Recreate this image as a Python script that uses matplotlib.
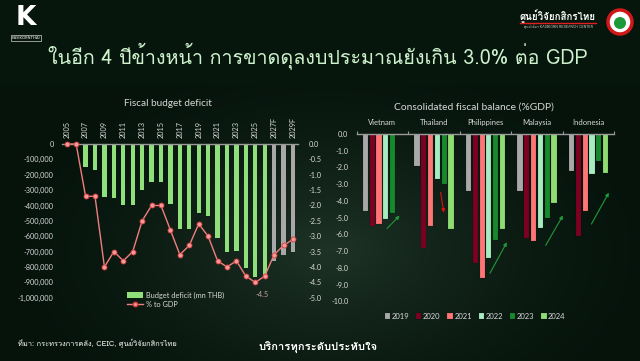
import numpy as np
import matplotlib
matplotlib.use('Agg')
import matplotlib.pyplot as plt
from matplotlib import font_manager
from matplotlib.ft2font import FT2Font
from matplotlib.patches import Circle, Patch
from matplotlib.lines import Line2D

# ---- data: left chart (Thailand budget deficit) ----
years = list(range(2005, 2030))
year_labels = [str(y) if y < 2027 else f'{y}F' for y in years]
deficit = [np.nan, np.nan, -147000, -166000, -347000, -350000, -400000, -400000,
           -300000, -250000, -250000, -390000, -553000, -550000, -450000, -469000,
           -609000, -700000, -695000, -805000, -865700, -860000, -761000, -722000,
           -705000]
pct_gdp = [0.0, 0.0, -1.7, -1.7, -4.0, -3.5, -3.8, -3.5, -2.5, -2.0, -2.0, -2.8,
           -3.6, -3.3, -2.6, -3.0, -3.8, -4.0, -3.8, -4.3, -4.5, -4.3, -3.6, -3.3,
           -3.1]

# ---- data: right chart (consolidated fiscal balance %GDP) ----
countries = ['Vietnam', 'Thailand', 'Philippines', 'Malaysia', 'Indonesia']
bal_years = ['2019', '2020', '2021', '2022', '2023', '2024']
bal_2019 = [-4.6, -1.9, -3.4, -3.4, -2.2]
bal_2020 = [-5.5, -6.8, -7.7, -6.2, -6.1]
bal_2021 = [-5.4, -5.5, -8.6, -6.4, -4.6]
bal_2022 = [-5.1, -2.7, -7.4, -5.6, -2.4]
bal_2023 = [-4.7, -3.0, -6.3, -5.0, -1.6]
bal_2024 = [np.nan, -5.7, -5.7, -4.1, -2.3]
bal_colors = ['#a9a9a9', '#7d0022', '#ff7474', '#a6ecc0', '#178a2e', '#8fdc72']

# trend arrows (start, end) in data coords of right chart
arrows = [((0.05, -5.76), (0.37, -4.76), '#1f9a3a'),
          ((1.12, -3.32), (1.20, -4.86), '#e01010'),
          ((2.06, -8.46), (2.44, -6.32), '#1f9a3a'),
          ((3.14, -6.80), (3.53, -4.72), '#1f9a3a'),
          ((4.03, -5.52), (4.42, -3.36), '#1f9a3a')]


def thai_font():
    for f in font_manager.fontManager.ttflist:
        try:
            if 0x0E01 in FT2Font(f.fname).get_charmap():
                return f.name
        except Exception:
            pass
    return 'DejaVu Sans'


TH = [thai_font(), 'DejaVu Sans']
plt.rcParams['font.family'] = ['Lato', 'DejaVu Sans']
TXT = '#d9d9d9'

fig = plt.figure(figsize=(6.4, 3.61), dpi=100)

# background
bg = fig.add_axes([0, 0, 1, 1], zorder=-10)
yy, xx = np.mgrid[0:361, 0:640]
r = np.sqrt(((xx - 330) / 330.0) ** 2 + ((yy - 250) / 200.0) ** 2)
glow = np.clip(1 - r, 0, 1) ** 1.5
base = np.array([0.02, 0.075, 0.045])
light = np.array([0.12, 0.20, 0.15])
img = base + glow[..., None] * (light - base)
img[:85] = np.array([0.03, 0.09, 0.05])
bg.imshow(img, aspect='auto', extent=[0, 640, 361, 0])
bg.set_xlim(0, 640)
bg.set_ylim(361, 0)
bg.axis('off')

# header
bg.text(26, 18, 'K', color='white', fontsize=19, fontweight='bold',
        ha='center', va='center', family=['DejaVu Sans'])
bg.text(26, 38, 'KASIKORNTHAI', color='white', fontsize=2.8, ha='center', va='center',
        bbox=dict(boxstyle='square,pad=0.2', facecolor='none', edgecolor='white', lw=0.4))
bg.text(558, 16, 'ศูนย์วิจัยกสิกรไทย', color='white', fontsize=7, fontweight='bold',
        ha='center', va='center', family=TH)
bg.plot([520, 596], [23, 23], color='#e02020', lw=1)
bg.text(558, 27, 'ศูนย์วิจัยฯ KASIKORN RESEARCH CENTER', color='#cccccc', fontsize=2.5,
        ha='center', va='center', family=TH)
bg.add_patch(Circle((620, 22), 12, facecolor='white', edgecolor='#d01818', lw=2.5))
bg.add_patch(Circle((620, 23), 6, facecolor='#1c9a3a', edgecolor='none'))
bg.text(318, 56, 'ในอีก 4 ปีข้างหน้า การขาดดุลงบประมาณยังเกิน 3.0% ต่อ GDP',
        color='#cdf2cd', fontsize=14.2, ha='center', va='center', family=TH)

# footer
bg.text(18, 344, 'ที่มา: กระทรวงการคลัง, CEIC, ศูนย์วิจัยกสิกรไทย', color='white',
        fontsize=5.4, ha='left', va='center', family=TH)
bg.text(318, 348, 'บริการทุกระดับประทับใจ', color='white', fontsize=8.1,
        fontweight='bold', ha='center', va='center', family=TH)

# ---- left chart ----
ax = fig.add_axes([62 / 640, 1 - 305.4 / 361, 235.7 / 640, 161.4 / 361])
ax.patch.set_alpha(0)
bar_cols = ['#8fe07a' if y < 2027 else '#a8a8a8' for y in years]
ax.bar(years, deficit, width=0.45, color=bar_cols, zorder=2)
ax.set_xlim(2004.5, 2029.5)
ax.set_ylim(-1050000, 0)
ax.set_yticks(np.arange(-1000000, 1, 100000))
ax.set_yticklabels([f'{v:,.0f}' for v in np.arange(-1000000, 1, 100000)])
ax.xaxis.tick_top()
ax.set_xticks(years[::2])
ax.set_xticklabels(year_labels[::2], rotation=90)
ax.tick_params(axis='x', length=0, pad=4, labelsize=5.3, colors=TXT)
ax.tick_params(axis='y', length=0, pad=6, labelsize=5.3, colors=TXT)
for s in ['left', 'right', 'bottom']:
    ax.spines[s].set_visible(False)
ax.spines['top'].set_color('#9a9a9a')
ax.spines['top'].set_linewidth(1)
bg.text(168, 104, 'Fiscal budget deficit', color=TXT, fontsize=7.2,
        ha='center', va='center')

ax2 = ax.twinx()
ax2.plot(years, pct_gdp, color='#ef7f7f', lw=1, marker='o', markersize=3.6,
         markerfacecolor='#f39a9a', markeredgecolor='#d83a3a', markeredgewidth=0.6,
         clip_on=False, zorder=3)
ax2.set_ylim(-5.25, 0)
ax2.set_yticks(np.arange(-5.0, 0.01, 0.5))
ax2.set_yticklabels([f'{v:.1f}' for v in np.arange(-5.0, 0.01, 0.5)])
ax2.tick_params(axis='y', length=0, pad=8, labelsize=5.3, colors=TXT)
for s in ['left', 'right', 'bottom', 'top']:
    ax2.spines[s].set_visible(False)
i_min = int(np.argmin(pct_gdp))
ax2.annotate(f'{pct_gdp[i_min]:.1f}', (years[i_min], pct_gdp[i_min]),
             xytext=(5, -9), textcoords='offset points', color='#c9a0a0',
             fontsize=5.3, ha='center', va='center')

fig.legend(handles=[Patch(facecolor='#8fe07a', label='Budget deficit (mn THB)'),
                    Line2D([], [], color='#ef7f7f', lw=1, marker='o', markersize=3.2,
                           markerfacecolor='#f39a9a', markeredgecolor='#d83a3a',
                           label='% to GDP')],
           loc='upper left', bbox_to_anchor=(0.193, 0.203), frameon=False,
           fontsize=5.3, labelcolor=TXT, handlelength=2.2, handleheight=0.8,
           labelspacing=0.35, handletextpad=0.3, borderpad=0)

# ---- right chart ----
rx = fig.add_axes([356.7 / 640, 1 - 309 / 361, 257.6 / 640, 175 / 361])
rx.patch.set_alpha(0)
series = [bal_2019, bal_2020, bal_2021, bal_2022, bal_2023, bal_2024]
xpos = np.arange(len(countries))
for k, (vals, col, lab) in enumerate(zip(series, bal_colors, bal_years)):
    rx.bar(xpos + (k - 2.5) * 0.132, vals, width=0.1, color=col, label=lab,
           edgecolor=(0, 0, 0, 0.25), linewidth=0.3, zorder=2)
for (x0, y0), (x1, y1), col in arrows:
    rx.annotate('', xy=(x1, y1), xytext=(x0, y0),
                arrowprops=dict(arrowstyle='-|>', color=col, lw=0.8,
                                mutation_scale=5), zorder=3)
rx.set_xlim(-0.5, 4.5)
rx.set_ylim(-10.45, 0)
rx.set_yticks(np.arange(-10, 0.01, 1.0))
rx.set_yticklabels([f'{v:.1f}' for v in np.arange(-10, 0.01, 1.0)])
rx.xaxis.tick_top()
rx.set_xticks(np.arange(-0.5, 4.6, 1.0))
rx.set_xticklabels([])
rx.tick_params(axis='x', length=2.5, width=0.8, color='#9a9a9a', direction='out')
rx.tick_params(axis='y', length=0, pad=6, labelsize=5.3, colors=TXT)
for s in ['left', 'right', 'bottom']:
    rx.spines[s].set_visible(False)
rx.spines['top'].set_color('#9a9a9a')
rx.spines['top'].set_linewidth(1)
for i, c in enumerate(countries):
    rx.text(i, 0.66, c, color=TXT, fontsize=5.5, ha='center', va='center', clip_on=False)
bg.text(474, 107, 'Consolidated fiscal balance (%GDP)', color=TXT, fontsize=7.4,
        ha='center', va='center')
rx.legend(loc='upper center', bbox_to_anchor=(0.46, 0.0), ncol=6, frameon=False,
          fontsize=5.5, labelcolor=TXT, handlelength=0.7, handleheight=0.7,
          handletextpad=0.2, columnspacing=0.9, borderpad=0)

fig.savefig('out.png', dpi=100, facecolor='#06140c')
